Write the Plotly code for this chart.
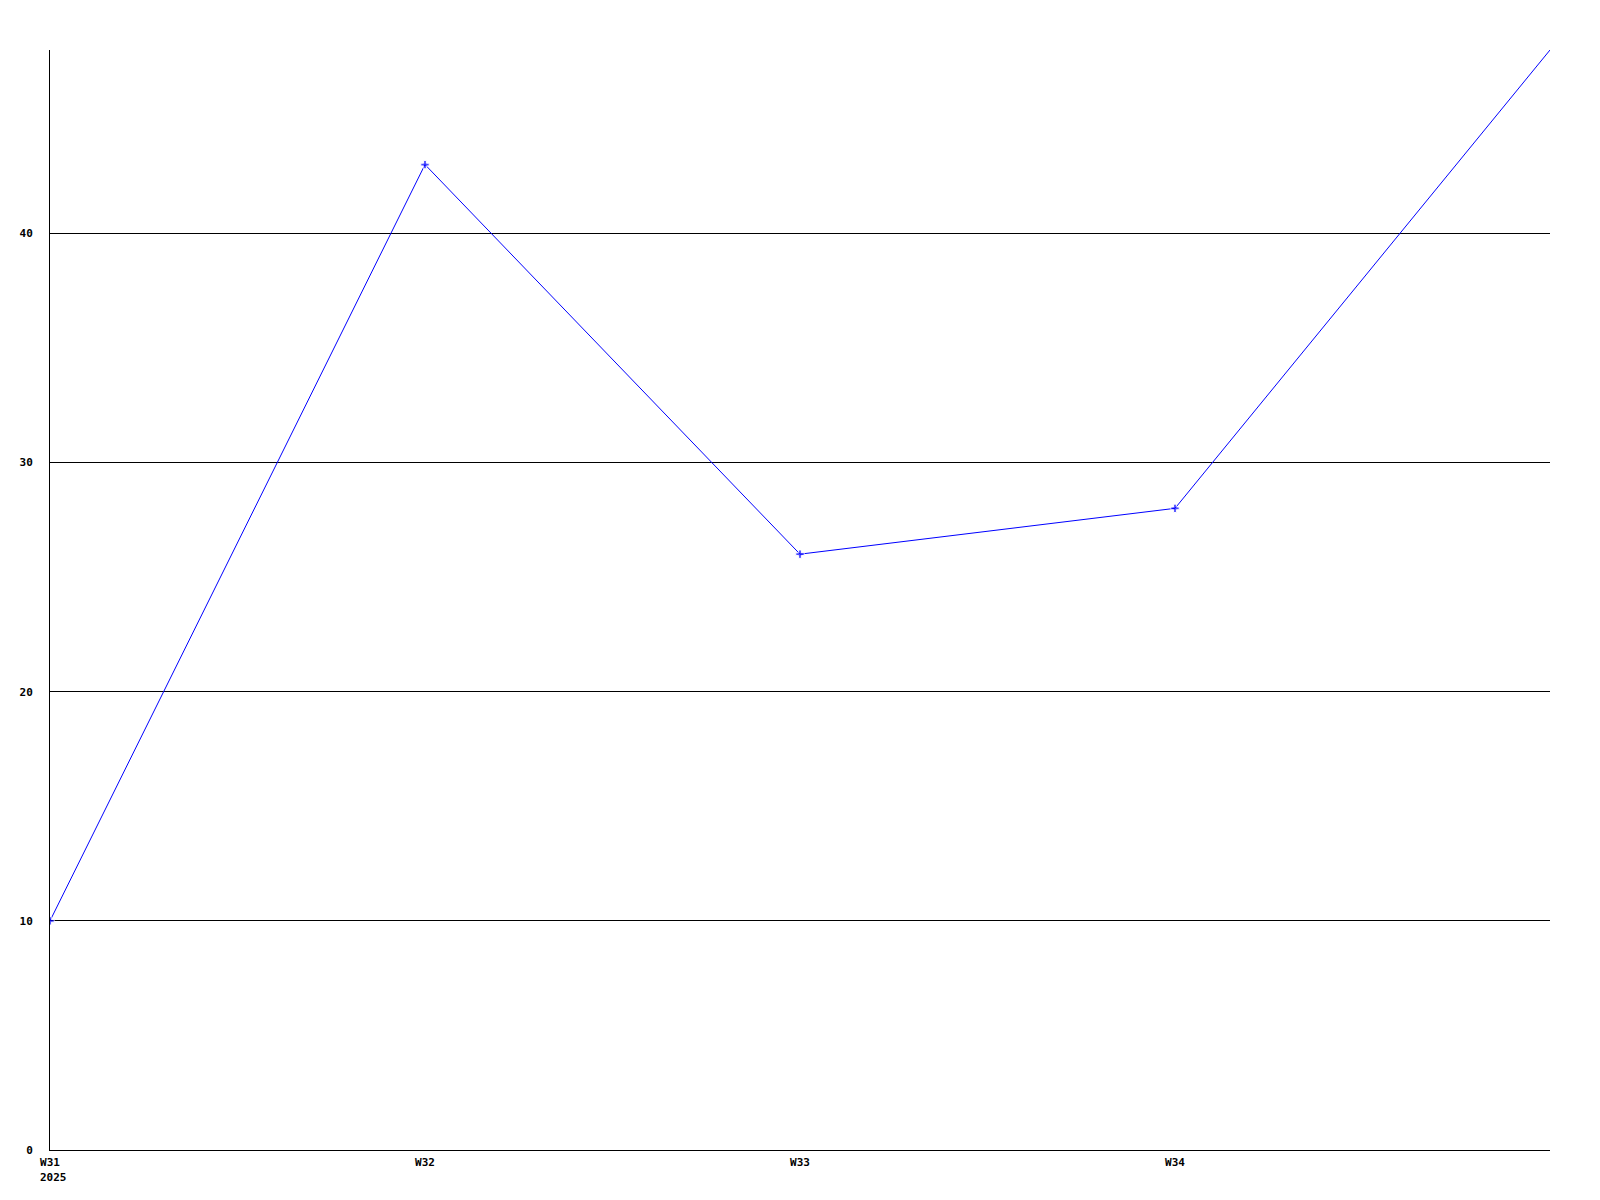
import plotly.graph_objects as go

weeks = ["W31", "W32", "W33", "W34", "W35"]
values = [10, 43, 26, 28, 48]
tick_labels = ["W31", "W32", "W33", "W34"]
year_label = "2025"
y_ticks = [0, 10, 20, 30, 40]

x_idx = list(range(len(weeks)))

fig = go.Figure()
fig.add_trace(go.Scatter(
    x=x_idx, y=values, mode="lines+markers",
    line=dict(color="#0000FF", width=1),
    marker=dict(symbol="cross", size=[7, 7, 7, 7, 0], color="#0000FF"),
    cliponaxis=True,
    hovertext=weeks,
))

font = dict(family="DejaVu Sans Mono", size=11, color="black")

fig.update_layout(
    width=1600, height=1200,
    margin=dict(l=42, r=58, t=42, b=58, autoexpand=False),
    paper_bgcolor="white", plot_bgcolor="white",
    showlegend=False,
    font=font,
)
fig.update_xaxes(
    range=[0, 4], tickvals=x_idx[:4],
    ticktext=["<b>%s</b>" % t for t in tick_labels],
    showgrid=False, zeroline=False, showline=True, linecolor="black", linewidth=1,
    ticks="outside", ticklen=2, tickcolor="rgba(0,0,0,0)", tickfont=font,
)
fig.update_yaxes(
    range=[0, 48], tickvals=y_ticks, ticktext=["<b>%d</b>" % v for v in y_ticks],
    showgrid=True, gridcolor="black", gridwidth=1, zeroline=False,
    showline=True, linecolor="black", linewidth=1,
    ticks="outside", ticklen=14, tickcolor="rgba(0,0,0,0)", tickfont=font,
)
fig.add_annotation(
    x=x_idx[0], xref="x", y=0, yref="paper",
    text="<b>%s</b>" % year_label, showarrow=False,
    xanchor="left", yanchor="middle", xshift=-12, yshift=-27.5,
    font=font,
)

fig.write_html("out.html")
